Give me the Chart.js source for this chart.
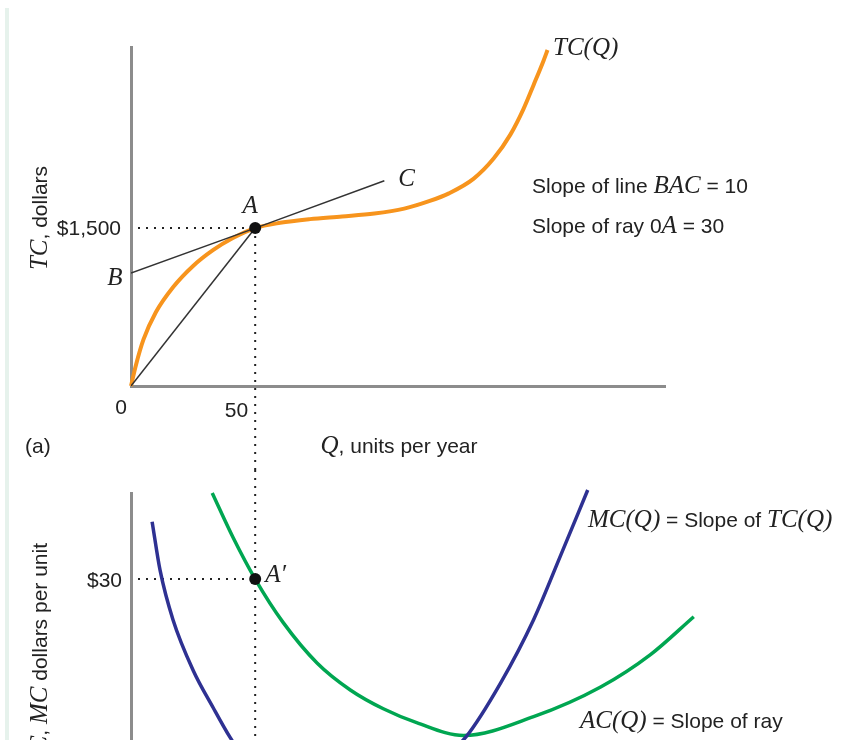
<!DOCTYPE html>
<html lang="en">
<head>
<meta charset="UTF-8">
<title>Total, average and marginal cost</title>
<script src="https://cdn.jsdelivr.net/npm/chart.js"></script>
<style>
  html, body { margin: 0; padding: 0; background: #fff; overflow: hidden; }
  .page { position: relative; width: 850px; height: 740px; overflow: hidden; background: #fff; }
  .stripe { position: absolute; left: 5px; top: 8px; width: 4px; height: 740px; background: #e6f2ec; }
  #tcChart { position: absolute; left: 0; top: 0; }
  #costChart { position: absolute; left: 0; top: 470px; }
</style>
</head>
<body>
<div class="page">
  <div class="stripe"></div>
  <canvas id="tcChart" width="850" height="470"></canvas>
  <canvas id="costChart" width="850" height="430"></canvas>
</div>
<script>
  // panel (a): total cost curve
  const tcQ      = [0, 2, 5, 10, 17, 25, 33, 41, 50, 60, 72, 85, 98, 110, 120, 128, 138, 146, 152.8, 158, 162.1, 166.1, 167.7];
  const tcValues = [0, 200, 440, 700, 940, 1140, 1290, 1405, 1500, 1550, 1585, 1610, 1638, 1685, 1755, 1830, 1970, 2160, 2390, 2630, 2860, 3090, 3191];
  const pointA = { x: 50, y: 1500 };
  const bacQ = [0, 50, 102];
  const bacTC = [1073, 1500, 1950];
  const rayQ = [0, 50];
  const rayTC = [0, 1500];
  const tcTickLabels = ['0', '50', '$1,500'];

  // panel (b): average cost and marginal cost
  const acQ      = [32.7, 41.1, 50, 61.3, 75, 88.3, 101.6, 115, 133.9, 162.1, 189.1, 209.3, 226.6];
  const acValues = [38.7, 34.2, 30, 25.6, 21.5, 18.8, 16.9, 15.5, 14.2, 16.1, 19.1, 22.4, 26.2];
  const mcQ      = [8.5, 11.7, 16.9, 25, 33.1, 39.9, 50, 65, 85, 105, 122, 134.7, 148.8, 162.1, 173, 183.9];
  const mcValues = [35.8, 30.9, 25.9, 20.8, 17.0, 14.0, 10.3, 7.6, 6.5, 8, 11, 14.0, 19.5, 25.9, 32.4, 39.0];
  const pointA2 = { x: 50, y: 30 };
  const costTickLabels = ['$30'];

  const SANS = '21px "Liberation Sans", Arial, sans-serif';
  const SERIF = 'italic 25px "Liberation Serif", "Times New Roman", serif';
  const INK = '#222';
  const AXIS = '#8c8c8c';

  function pts(xs, ys) {
    return xs.map((q, i) => ({ x: q, y: ys[i] }));
  }

  // draw a line of text made of sans and italic serif pieces
  function drawRich(ctx, parts, x, y, align) {
    let w = 0;
    parts.forEach(p => { ctx.font = p[1]; w += ctx.measureText(p[0]).width; });
    let cx = align === 'right' ? x - w : align === 'center' ? x - w / 2 : x;
    ctx.textAlign = 'left';
    ctx.textBaseline = 'alphabetic';
    ctx.fillStyle = INK;
    parts.forEach(p => {
      ctx.font = p[1];
      ctx.fillText(p[0], cx, y);
      cx += ctx.measureText(p[0]).width;
    });
  }

  function dotted(ctx, x1, y1, x2, y2) {
    ctx.save();
    ctx.strokeStyle = INK;
    ctx.lineWidth = 2;
    ctx.setLineDash([2, 6]);
    ctx.beginPath();
    ctx.moveTo(x1, y1);
    ctx.lineTo(x2, y2);
    ctx.stroke();
    ctx.restore();
  }

  function hiddenScale(extra) {
    return Object.assign({
      type: 'linear',
      grid: { display: false },
      ticks: { display: false },
      border: { display: true, color: AXIS, width: 3 }
    }, extra);
  }

  const tcPlugin = {
    id: 'tcPlugin',
    beforeDatasetsDraw(chart) {
      const { ctx, scales: { x, y } } = chart;
      const ax = x.getPixelForValue(pointA.x), ay = y.getPixelForValue(pointA.y);
      dotted(ctx, 138, ay, ax, ay);
      dotted(ctx, ax, ay, ax, chart.height);
    },
    afterDatasetsDraw(chart) {
      const { ctx, scales: { x, y } } = chart;
      const ax = x.getPixelForValue(pointA.x), ay = y.getPixelForValue(pointA.y);
      const by = y.getPixelForValue(bacTC[0]);
      const cx = x.getPixelForValue(bacQ[2]), cy = y.getPixelForValue(bacTC[2]);
      const x0 = x.getPixelForValue(0), y0 = y.getPixelForValue(0);
      ctx.save();
      drawRich(ctx, [[tcTickLabels[0], SANS]], x0 - 10, y0 + 28, 'center');
      drawRich(ctx, [[tcTickLabels[1], SANS]], ax - 7, y0 + 31, 'right');
      drawRich(ctx, [[tcTickLabels[2], SANS]], 121, ay + 7, 'right');
      drawRich(ctx, [['A', SERIF]], ax - 5, ay - 15, 'center');
      drawRich(ctx, [['B', SERIF]], 115, by + 12, 'center');
      drawRich(ctx, [['C', SERIF]], cx + 14, cy + 5, 'left');
      drawRich(ctx, [['TC(Q)', SERIF]], 553, 55, 'left');
      drawRich(ctx, [['Slope of line ', SANS], ['BAC', SERIF], [' = 10', SANS]], 532, 193, 'left');
      drawRich(ctx, [['Slope of ray 0', SANS], ['A', SERIF], [' = 30', SANS]], 532, 233, 'left');
      drawRich(ctx, [['Q', SERIF], [', units per year', SANS]], 399, 453, 'center');
      drawRich(ctx, [['(a)', SANS]], 25, 453, 'left');
      ctx.translate(47, 218);
      ctx.rotate(-Math.PI / 2);
      drawRich(ctx, [['TC', SERIF], [', dollars', SANS]], 0, 0, 'center');
      ctx.restore();
    }
  };

  new Chart(document.getElementById('tcChart'), {
    type: 'scatter',
    data: {
      datasets: [
        { data: [pointA], pointRadius: 6, pointBackgroundColor: '#111', pointBorderWidth: 0, showLine: false },
        { data: pts(bacQ, bacTC), borderColor: '#333', borderWidth: 1.5, pointRadius: 0, showLine: true, tension: 0 },
        { data: pts(rayQ, rayTC), borderColor: '#333', borderWidth: 1.5, pointRadius: 0, showLine: true, tension: 0 },
        { data: pts(tcQ, tcValues), borderColor: '#f7941d', borderWidth: 4, pointRadius: 0, showLine: true,
          cubicInterpolationMode: 'monotone', clip: false }
      ]
    },
    options: {
      responsive: false,
      animation: false,
      layout: { padding: { left: 131, right: 185, top: 47, bottom: 84 } },
      plugins: { legend: { display: false }, tooltip: { enabled: false } },
      scales: {
        x: hiddenScale({ min: 0, max: 215, afterFit: s => { s.height = 0; } }),
        y: hiddenScale({ min: 0, max: 3220, afterFit: s => { s.width = 0; } })
      }
    },
    plugins: [tcPlugin]
  });

  const costPlugin = {
    id: 'costPlugin',
    beforeDatasetsDraw(chart) {
      const { ctx, scales: { x, y } } = chart;
      const ax = x.getPixelForValue(pointA2.x), ay = y.getPixelForValue(pointA2.y);
      dotted(ctx, 138, ay, ax, ay);
      dotted(ctx, ax, 0, ax, chart.height);
    },
    afterDatasetsDraw(chart) {
      const { ctx, scales: { x, y } } = chart;
      const ax = x.getPixelForValue(pointA2.x), ay = y.getPixelForValue(pointA2.y);
      ctx.save();
      drawRich(ctx, [[costTickLabels[0], SANS]], 122, ay + 8, 'right');
      drawRich(ctx, [['A\u2032', SERIF]], ax + 10, ay + 3, 'left');
      drawRich(ctx, [['MC(Q)', SERIF], [' = Slope of ', SANS], ['TC(Q)', SERIF]], 588, 57, 'left');
      drawRich(ctx, [['AC(Q)', SERIF], [' = Slope of ray', SANS]], 580, 258, 'left');
      ctx.translate(47, 73);
      ctx.rotate(-Math.PI / 2);
      drawRich(ctx, [['AC', SERIF], [', ', SANS], ['MC', SERIF], [' dollars per unit', SANS]], 0, 0, 'right');
      ctx.restore();
    }
  };

  new Chart(document.getElementById('costChart'), {
    type: 'scatter',
    data: {
      datasets: [
        { data: [pointA2], pointRadius: 6, pointBackgroundColor: '#111', pointBorderWidth: 0, showLine: false },
        { data: pts(mcQ, mcValues), borderColor: '#2e3192', borderWidth: 3.5, pointRadius: 0, showLine: true,
          cubicInterpolationMode: 'monotone', clip: false },
        { data: pts(acQ, acValues), borderColor: '#00a651', borderWidth: 3.5, pointRadius: 0, showLine: true,
          cubicInterpolationMode: 'monotone', clip: false }
      ]
    },
    options: {
      responsive: false,
      animation: false,
      layout: { padding: { left: 131, right: 23.6, top: 23, bottom: 24 } },
      plugins: { legend: { display: false }, tooltip: { enabled: false } },
      scales: {
        x: hiddenScale({ min: 0, max: 280, afterFit: s => { s.height = 0; } }),
        y: hiddenScale({ min: 0, max: 38.7, afterFit: s => { s.width = 0; } })
      }
    },
    plugins: [costPlugin]
  });
</script>
</body>
</html>
